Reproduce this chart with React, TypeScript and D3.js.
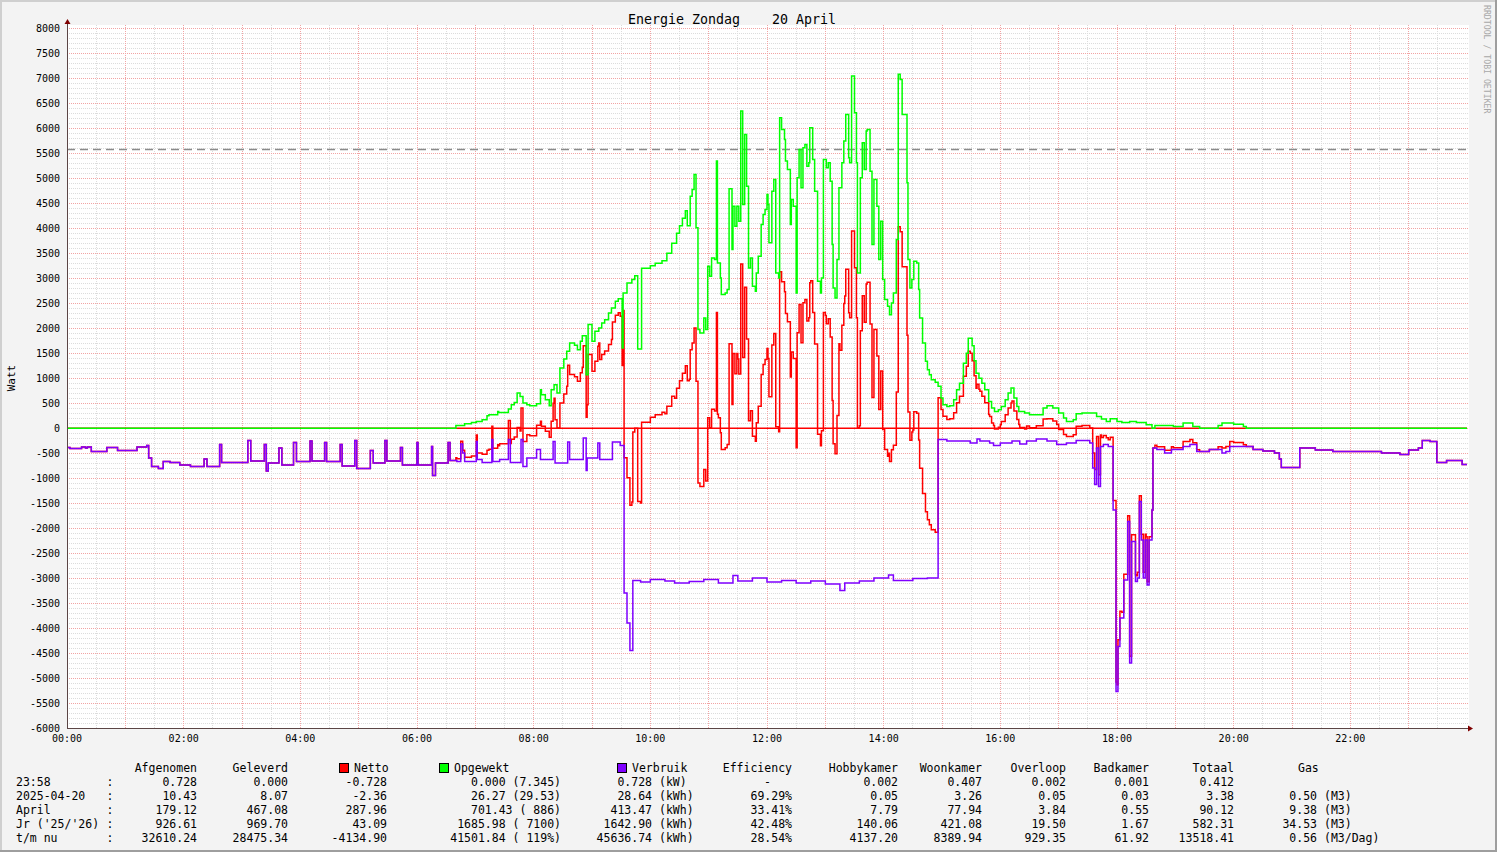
import React from 'react';
import * as d3 from 'd3';

const W = 1497;
const H = 852;
const PX0 = 67;
const PX1 = 1467;
const PY0 = 728;
const PY1 = 28.3;

// Opgewekt (generated, W) — change points: minute of day, value
const opgewektT = [0, 400, 409, 416, 421, 427, 432, 434, 443, 444, 454, 457, 460, 463, 466, 469, 473, 476, 483, 487, 488, 492, 496, 498, 501, 504, 507, 511, 514, 517, 522, 525, 528, 530, 534, 536, 540, 543, 547, 550, 553, 557, 560, 564, 567, 571, 572, 576, 581, 584, 587, 591, 600, 605, 612, 617, 622, 627, 630, 633, 636, 638, 641, 643, 645, 647, 649, 651, 655, 657, 659, 661, 663, 666, 668, 669, 672, 673, 677, 679, 681, 684, 685, 687, 689, 691, 693, 695, 697, 699, 701, 703, 705, 708, 709, 711, 714, 716, 718, 720, 721, 722, 725, 727, 729, 732, 733, 735, 738, 739, 741, 744, 745, 747, 750, 751, 753, 755, 757, 759, 761, 763, 764, 767, 769, 772, 775, 776, 778, 781, 783, 785, 787, 788, 790, 792, 794, 797, 799, 801, 804, 805, 807, 810, 812, 813, 816, 818, 820, 822, 823, 826, 828, 830, 833, 835, 837, 839, 841, 844, 846, 848, 850, 853, 855, 857, 859, 861, 864, 865, 867, 869, 871, 874, 876, 877, 880, 883, 885, 887, 889, 893, 896, 899, 901, 905, 908, 912, 915, 918, 922, 925, 927, 931, 933, 935, 938, 941, 944, 948, 951, 954, 958, 961, 965, 968, 971, 974, 977, 979, 985, 990, 1004, 1008, 1014, 1020, 1025, 1028, 1035, 1038, 1044, 1059, 1064, 1069, 1073, 1080, 1085, 1093, 1100, 1110, 1116, 1119, 1138, 1148, 1158, 1165, 1184, 1188, 1200, 1210, 1213];
const opgewektV = [0, 55, 88, 114, 134, 168, 248, 268, 335, 315, 381, 468, 515, 702, 635, 501, 468, 448, 488, 769, 668, 568, 448, 769, 869, 702, 1203, 1383, 1536, 1703, 1657, 1570, 1737, 1850, 1069, 2071, 1737, 1937, 2004, 2104, 2171, 2304, 2404, 2538, 2591, 1603, 2705, 2905, 2972, 3050, 1583, 3200, 3250, 3300, 3350, 3500, 3700, 3900, 4050, 4200, 4350, 4050, 4640, 4775, 5075, 4007, 1971, 1904, 2204, 1971, 3239, 3039, 3406, 3373, 5343, 3306, 3006, 2672, 2705, 2772, 4788, 3573, 4441, 4040, 4441, 4141, 6344, 4475, 5877, 4842, 3206, 3406, 2839, 2739, 3106, 3440, 4074, 4274, 4374, 4675, 4475, 3707, 4742, 4975, 3106, 3006, 6211, 5977, 5777, 5343, 5176, 4074, 4575, 4441, 2706, 5009, 5576, 4808, 5610, 5676, 5242, 5309, 6010, 5376, 4742, 2939, 2705, 3006, 5376, 5209, 5309, 4942, 3673, 2805, 2605, 3373, 4808, 5309, 5743, 6277, 5409, 5309, 7045, 6311, 5309, 3106, 5009, 5710, 5176, 5943, 5977, 5142, 3673, 4975, 4441, 3373, 4141, 2972, 2572, 2438, 2271, 2505, 2705, 3773, 7079, 6978, 6277, 6277, 4909, 3373, 2805, 2972, 3340, 3306, 2772, 2205, 1704, 1336, 1169, 1069, 969, 916, 836, 602, 469, 435, 450, 570, 770, 900, 1300, 1500, 1800, 1650, 1350, 1100, 1000, 900, 770, 535, 402, 335, 368, 435, 569, 702, 802, 602, 435, 335, 302, 268, 402, 449, 402, 302, 202, 135, 168, 288, 302, 235, 182, 135, 190, 135, 115, 135, 115, 68, 0, 55, 35, 101, 35, 0, 55, 101, 80, 35, 0];

// Verbruik (consumption, plotted negative, W)
const verbruikT = [0, 3, 15, 19, 21, 25, 41, 52, 72, 82, 84, 87, 94, 99, 106, 116, 127, 141, 144, 157, 159, 186, 189, 203, 205, 207, 218, 221, 233, 236, 250, 252, 265, 267, 281, 283, 296, 298, 312, 315, 327, 329, 343, 345, 360, 361, 375, 376, 379, 392, 394, 401, 405, 407, 409, 421, 422, 427, 437, 438, 445, 454, 456, 467, 469, 473, 483, 487, 500, 502, 515, 517, 531, 534, 535, 546, 548, 561, 569, 573, 576, 579, 582, 590, 600, 615, 625, 640, 655, 670, 685, 690, 705, 720, 735, 750, 765, 780, 795, 800, 815, 830, 845, 850, 870, 885, 896, 905, 917, 929, 936, 939, 949, 953, 960, 972, 980, 987, 997, 1008, 1018, 1028, 1038, 1052, 1055, 1057, 1059, 1061, 1063, 1066, 1071, 1076, 1079, 1081, 1083, 1087, 1091, 1093, 1095, 1099, 1101, 1103, 1105, 1107, 1109, 1111, 1113, 1116, 1117, 1121, 1129, 1136, 1148, 1155, 1162, 1168, 1175, 1188, 1192, 1196, 1220, 1230, 1242, 1247, 1249, 1268, 1284, 1302, 1352, 1371, 1380, 1390, 1394, 1402, 1409, 1419, 1435];
const verbruikV = [-390, -410, -380, -400, -380, -470, -390, -450, -380, -350, -600, -770, -810, -670, -690, -740, -770, -620, -770, -330, -690, -250, -660, -330, -860, -700, -400, -740, -290, -670, -260, -660, -290, -670, -330, -760, -250, -810, -450, -700, -250, -660, -390, -740, -290, -740, -370, -950, -700, -290, -650, -670, -320, -500, -670, -270, -630, -690, -230, -670, -630, -230, -690, -230, -770, -600, -430, -630, -270, -700, -280, -630, -200, -850, -600, -300, -630, -280, -350, -3300, -3900, -4450, -3050, -3080, -3030, -3060, -3100, -3070, -3030, -3100, -2950, -3060, -3000, -3080, -3050, -3100, -3060, -3120, -3250, -3100, -3060, -3000, -2940, -3050, -3010, -3000, -230, -260, -260, -300, -220, -260, -300, -350, -300, -260, -320, -260, -220, -260, -330, -300, -250, -300, -800, -1130, -400, -1170, -370, -330, -370, -1640, -5270, -4370, -3800, -3040, -1870, -4700, -2270, -3070, -3000, -1470, -2240, -3000, -2240, -3140, -2240, -1640, -400, -430, -500, -430, -370, -330, -470, -470, -430, -500, -470, -370, -430, -460, -500, -620, -790, -400, -440, -470, -500, -530, -440, -400, -250, -270, -690, -650, -730];

const yTickValues = d3.range(-6000, 8001, 500);
const xTickLabels = ['00:00', '02:00', '04:00', '06:00', '08:00', '10:00', '12:00', '14:00', '16:00', '18:00', '20:00', '22:00'];
const limitW = 5580;

const rowLabels = ['23:58', '2025-04-20', 'April', "Jr ('25/'26)", 't/m nu'];
const afgenomen = ['0.728', '10.43', '179.12', '926.61', '32610.24'];
const geleverd = ['0.000', '8.07', '467.08', '969.70', '28475.34'];
const nettoTxt = ['-0.728', '-2.36', '287.96', '43.09', '-4134.90'];
const opgewektTxt = ['0.000 (7.345)', '26.27 (29.53)', '701.43 (  886)', '1685.98 ( 7100)', '41501.84 ( 119%)'];
const verbruikNum = ['0.728', '28.64', '413.47', '1642.90', '45636.74'];
const verbruikUnit = ['(kW)', '(kWh)', '(kWh)', '(kWh)', '(kWh)'];
const efficiency = ['-', '69.29%', '33.41%', '42.48%', '28.54%'];
const hobbykamer = ['0.002', '0.05', '7.79', '140.06', '4137.20'];
const woonkamer = ['0.407', '3.26', '77.94', '421.08', '8389.94'];
const overloop = ['0.002', '0.05', '3.84', '19.50', '929.35'];
const badkamer = ['0.001', '0.03', '0.55', '1.67', '61.92'];
const totaal = ['0.412', '3.38', '90.12', '582.31', '13518.41'];
const gasNum = ['', '0.50', '9.38', '34.53', '0.56'];
const gasUnit = ['', '(M3)', '(M3)', '(M3)', '(M3/Dag)'];

const RED = '#ff0000';
const GREEN = '#00ff00';
const PURPLE = '#7f00ff';
const MONO = '"DejaVu Sans Mono", "Liberation Mono", monospace';

function stepAt(T: number[], V: number[], t: number) {
  let v = V[0];
  for (let i = 0; i < T.length; i++) {
    if (T[i] <= t) v = V[i];
    else break;
  }
  return v;
}

function toPts(T: number[], V: number[]): [number, number][] {
  const pts: [number, number][] = T.map((t, i) => [t, V[i]]);
  pts.push([1440, V[V.length - 1]]);
  return pts;
}

export default function App() {
  const x = d3.scaleLinear().domain([0, 1440]).range([PX0, PX1]);
  const y = d3.scaleLinear().domain([-6000, 8000]).range([PY0, PY1]);

  // Netto = Opgewekt + (−Verbruik), as the source graph computes it
  const times = Array.from(new Set([...opgewektT, ...verbruikT])).sort((a, b) => a - b);
  const nettoV = times.map((t) => stepAt(opgewektT, opgewektV, t) + stepAt(verbruikT, verbruikV, t));

  const line = d3
    .line<[number, number]>()
    .x((d) => x(d[0]))
    .y((d) => y(d[1]))
    .curve(d3.curveStepAfter);

  const snap = (v: number) => Math.floor(v) + 0.5;

  const minorH = d3.range(-6000, 8001, 100).filter((v) => v % 500 !== 0);
  const majorH = d3.range(-6000, 8001, 500);
  const minorV = d3.range(30, 1440, 60);
  const majorV = d3.range(60, 1440, 60);

  const legendHeaderY = 772;
  const rowY = (i: number) => 786 + i * 14;

  const rightCols: [string[], number][] = [
    [afgenomen, 197],
    [geleverd, 288],
    [nettoTxt, 387],
    [opgewektTxt, 561],
    [hobbykamer, 898],
    [woonkamer, 982],
    [overloop, 1066],
    [badkamer, 1149],
    [totaal, 1234],
  ];

  return (
    <svg
      width={W}
      height={H}
      style={{ position: 'absolute', left: 0, top: 0, display: 'block' }}
      fontFamily={MONO}
    >
      <rect x={0} y={0} width={W} height={H} fill="#f3f3f3" />
      {/* 3D frame */}
      <rect x={0} y={0} width={W} height={2} fill="#cfcfcf" />
      <rect x={0} y={0} width={2} height={H} fill="#cfcfcf" />
      <rect x={0} y={H - 2} width={W} height={2} fill="#9e9e9e" />
      <rect x={W - 2} y={0} width={2} height={H} fill="#9e9e9e" />

      {/* canvas */}
      <rect x={PX0} y={25} width={PX1 - PX0 + 2} height={PY0 - 25} fill="#ffffff" />

      {/* minor grid */}
      <g stroke="#dcdcdc" strokeWidth={1} strokeDasharray="1,1" shapeRendering="crispEdges">
        {minorH.map((v) => (
          <line key={'mh' + v} x1={PX0} x2={PX1 + 2} y1={snap(y(v))} y2={snap(y(v))} />
        ))}
        {minorV.map((t) => (
          <line key={'mv' + t} x1={snap(x(t))} x2={snap(x(t))} y1={25} y2={PY0} />
        ))}
      </g>
      {/* major grid */}
      <g stroke="#f2a4a4" strokeWidth={1} strokeDasharray="1,1" shapeRendering="crispEdges">
        {majorH.map((v) => (
          <line key={'Mh' + v} x1={PX0} x2={PX1 + 2} y1={snap(y(v))} y2={snap(y(v))} />
        ))}
        {majorV.map((t) => (
          <line key={'Mv' + t} x1={snap(x(t))} x2={snap(x(t))} y1={25} y2={PY0} />
        ))}
      </g>

      {/* limit line */}
      <line x1={PX0} x2={PX1} y1={snap(y(limitW))} y2={snap(y(limitW))} stroke="#8a8a8a" strokeWidth={1.3} strokeDasharray="8,5" />

      {/* zero rule */}
      <line x1={PX0} x2={PX1} y1={y(0)} y2={y(0)} stroke={RED} strokeWidth={1.5} />

      {/* series */}
      <path d={line(toPts(times, nettoV)) || ''} fill="none" stroke={RED} strokeWidth={1.5} />
      <path d={line(toPts(opgewektT, opgewektV)) || ''} fill="none" stroke={GREEN} strokeWidth={1.5} />
      <path d={line(toPts(verbruikT, verbruikV)) || ''} fill="none" stroke={PURPLE} strokeWidth={1.5} />

      {/* axes */}
      <line x1={PX0 + 0.5} x2={PX0 + 0.5} y1={PY0} y2={22} stroke="#5b4545" strokeWidth={1} />
      <line x1={PX0} x2={PX1 + 4} y1={PY0 + 0.5} y2={PY0 + 0.5} stroke="#5b4545" strokeWidth={1} />
      <path d={`M${PX0 - 2.5},${24} L${PX0 + 3.5},${24} L${PX0 + 0.5},${19} Z`} fill="#7f0000" />
      <path d={`M${PX1 + 1},${PY0 - 2.5} L${PX1 + 1},${PY0 + 3.5} L${PX1 + 6},${PY0 + 0.5} Z`} fill="#7f0000" />

      {/* y tick labels */}
      <g fontSize={10} fill="#000" textAnchor="end">
        {yTickValues.map((v) => (
          <text key={'yl' + v} x={60} y={y(v) + 3.5}>
            {v}
          </text>
        ))}
      </g>
      {/* x tick labels */}
      <g fontSize={10} fill="#000" textAnchor="middle">
        {xTickLabels.map((l, i) => (
          <text key={'xl' + l} x={x(i * 120)} y={742}>
            {l}
          </text>
        ))}
      </g>

      {/* title */}
      <text x={732} y={24} fontSize={13.3} textAnchor="middle" style={{ whiteSpace: 'pre' }}>
        {'Energie Zondag    20 April'}
      </text>
      {/* y label */}
      <text transform="translate(15,378) rotate(-90)" fontSize={11} textAnchor="middle">
        Watt
      </text>
      {/* watermark */}
      <text transform="translate(1484,5) rotate(90)" fontSize={8.2} fill="#a8a8a8">
        RRDTOOL / TOBI OETIKER
      </text>

      {/* legend */}
      <g fontSize={11.5} fill="#000" style={{ whiteSpace: 'pre' }}>
        <text x={197} y={legendHeaderY} textAnchor="end">Afgenomen</text>
        <text x={288} y={legendHeaderY} textAnchor="end">Geleverd</text>
        <rect x={339.5} y={763.5} width={9} height={9} fill={RED} stroke="#000" strokeWidth={1} />
        <text x={354} y={legendHeaderY}>Netto</text>
        <rect x={439.5} y={763.5} width={9} height={9} fill={GREEN} stroke="#000" strokeWidth={1} />
        <text x={454} y={legendHeaderY}>Opgewekt</text>
        <rect x={617.5} y={763.5} width={9} height={9} fill={PURPLE} stroke="#000" strokeWidth={1} />
        <text x={632} y={legendHeaderY}>Verbruik</text>
        <text x={792} y={legendHeaderY} textAnchor="end">Efficiency</text>
        <text x={898} y={legendHeaderY} textAnchor="end">Hobbykamer</text>
        <text x={982} y={legendHeaderY} textAnchor="end">Woonkamer</text>
        <text x={1066} y={legendHeaderY} textAnchor="end">Overloop</text>
        <text x={1149} y={legendHeaderY} textAnchor="end">Badkamer</text>
        <text x={1234} y={legendHeaderY} textAnchor="end">Totaal</text>
        <text x={1298} y={legendHeaderY}>Gas</text>

        {rowLabels.map((l, i) => (
          <g key={'row' + i}>
            <text x={16} y={rowY(i)}>{l}</text>
            <text x={110} y={rowY(i)} textAnchor="middle">:</text>
            {rightCols.map(([arr, rx], j) => (
              <text key={'c' + j} x={rx} y={rowY(i)} textAnchor="end">
                {arr[i]}
              </text>
            ))}
            <text x={652} y={rowY(i)} textAnchor="end">{verbruikNum[i]}</text>
            <text x={659} y={rowY(i)}>{verbruikUnit[i]}</text>
            <text x={i === 0 ? 771 : 792} y={rowY(i)} textAnchor="end">{efficiency[i]}</text>
            <text x={1317} y={rowY(i)} textAnchor="end">{gasNum[i]}</text>
            <text x={1324} y={rowY(i)}>{gasUnit[i]}</text>
          </g>
        ))}
      </g>
    </svg>
  );
}
